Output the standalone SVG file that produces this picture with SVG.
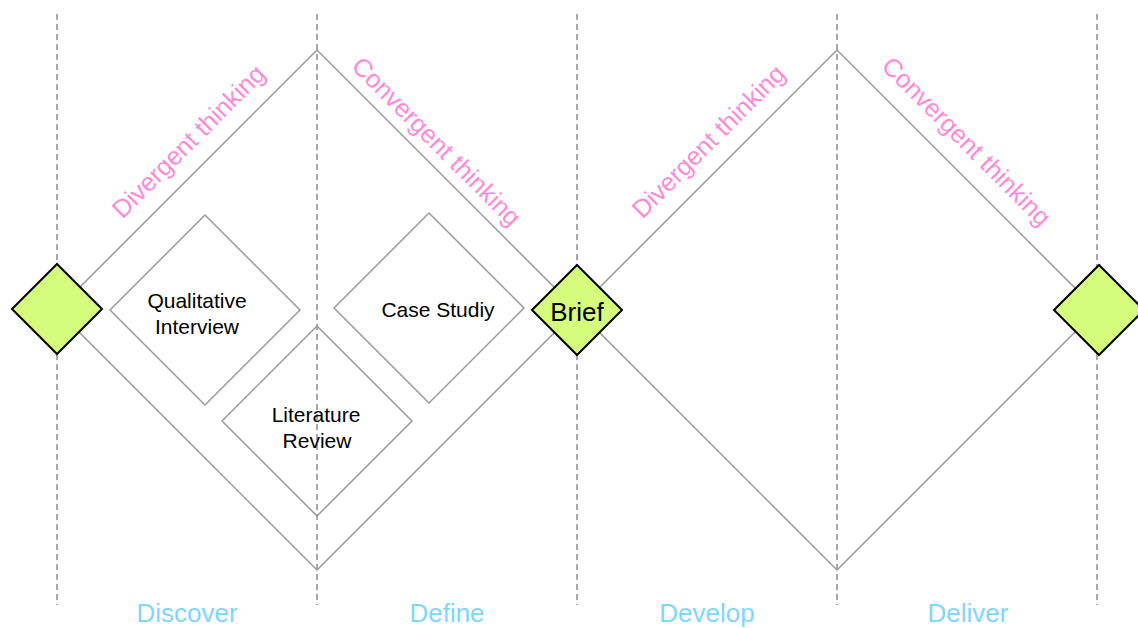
<svg xmlns="http://www.w3.org/2000/svg" width="1138" height="628" viewBox="0 0 1138 628">
  <style>
    .guide { stroke: #8c8c8c; stroke-width: 1.5; stroke-dasharray: 6 4; fill: none; }
    .outline { stroke: #9a9a9a; stroke-width: 1.5; fill: none; }
    .gate { fill: #d5fc7c; stroke: #000; stroke-width: 2; }
    .label { font-family: "Liberation Sans", Arial, sans-serif; font-size: 21px; fill: #000; text-anchor: middle; }
    .mode { font-family: "Liberation Sans", Arial, sans-serif; font-size: 25.5px; fill: #ff8ad6; text-anchor: middle; }
    .phase { font-family: "Liberation Sans", Arial, sans-serif; font-size: 26px; fill: #7fd6ff; text-anchor: middle; }
  </style>
  <rect width="1138" height="628" fill="#fff"/>

  <!-- vertical phase dividers -->
  <g id="dividers">
    <line class="guide" x1="57" y1="14" x2="57" y2="605"/>
    <line class="guide" x1="317" y1="14" x2="317" y2="605"/>
    <line class="guide" x1="577" y1="14" x2="577" y2="605"/>
    <line class="guide" x1="837" y1="14" x2="837" y2="605"/>
    <line class="guide" x1="1097" y1="14" x2="1097" y2="605"/>
  </g>

  <!-- double diamond outline -->
  <g id="connectors">
    <polygon class="outline" points="57,310 317,50 577,310 317,570"/>
    <polygon class="outline" points="577,310 837,50 1097,310 837,570"/>
  </g>

  <!-- thinking modes -->
  <g id="modes">
    <text class="mode" transform="translate(189,142) rotate(-45)" x="0" y="8">Divergent thinking</text>
    <text class="mode" transform="translate(436,142) rotate(45)" x="0" y="8">Convergent thinking</text>
    <text class="mode" transform="translate(709,142) rotate(-45)" x="0" y="8">Divergent thinking</text>
    <text class="mode" transform="translate(966,142) rotate(45)" x="0" y="8">Convergent thinking</text>
  </g>

  <!-- research methods -->
  <g id="qualitative-interview">
    <polygon class="outline" points="110,310 205,215 300,310 205,405"/>
    <text class="label" x="197" y="308">Qualitative</text>
    <text class="label" x="197" y="334">Interview</text>
  </g>
  <g id="case-study">
    <polygon class="outline" points="334,308 429,213 524,308 429,403"/>
    <text class="label" x="438" y="317">Case Studiy</text>
  </g>
  <g id="literature-review">
    <polygon class="outline" points="222,421 317,326 412,421 317,516"/>
    <text class="label" x="316" y="422">Literature</text>
    <text class="label" x="317" y="448">Review</text>
  </g>

  <!-- milestone gates -->
  <g id="start">
    <polygon class="gate" points="12,309 57,264 102,309 57,354"/>
  </g>
  <g id="brief">
    <polygon class="gate" points="532,310 577,265 622,310 577,355"/>
    <text class="label" x="577" y="321" style="font-size:26px">Brief</text>
  </g>
  <g id="end">
    <polygon class="gate" points="1054,310 1099,265 1144,310 1099,355"/>
  </g>

  <!-- phase names -->
  <g id="phases">
    <text class="phase" x="187" y="622">Discover</text>
    <text class="phase" x="447" y="622">Define</text>
    <text class="phase" x="707" y="622">Develop</text>
    <text class="phase" x="968" y="622">Deliver</text>
  </g>
</svg>
